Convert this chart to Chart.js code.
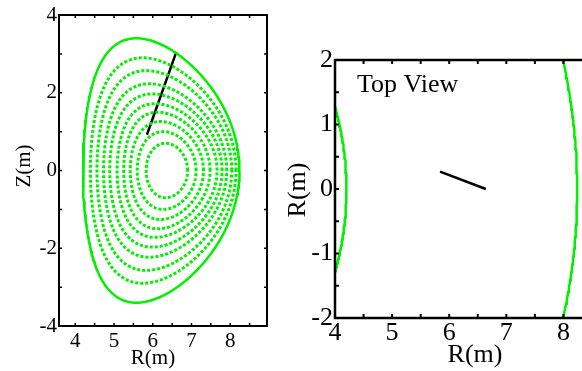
<!DOCTYPE html>
<html>
<head>
<meta charset="utf-8">
<script src="https://cdn.jsdelivr.net/npm/chart.js@4.4.1/dist/chart.umd.min.js"></script>
<style>
  html, body { margin: 0; padding: 0; background: #fff; overflow: hidden; }
  #wrap { position: relative; width: 582px; height: 371px; overflow: hidden; }
  canvas { position: absolute; top: 0; }
  #pol { left: 0; }
  #top { left: 280px; }
</style>
</head>
<body>
<div id="wrap">
  <canvas id="pol" width="280" height="371"></canvas>
  <canvas id="top" width="330" height="371"></canvas>
</div>
<script>
'use strict';

// flux surfaces, inner to outer (last one is the boundary, drawn solid)
var surfRin  = [5.83, 5.60, 5.42, 5.25, 5.08, 4.89, 4.73, 4.56, 4.39, 4.20];
var surfRout = [6.90, 7.12, 7.31, 7.48, 7.66, 7.79, 7.91, 8.04, 8.15, 8.24];
var surfZtop = [0.70, 1.00, 1.26, 1.50, 1.72, 1.97, 2.23, 2.57, 2.90, 3.40];
var surfRtop = [6.33, 6.27, 6.20, 6.13, 6.06, 5.99, 5.91, 5.83, 5.74, 5.58];

// sight line, poloidal plane and top view
var chordR = [5.85, 6.61];
var chordZ = [0.92, 3.05];
var topX = [5.84, 6.64];
var topY = [0.27, 0.00];

// axis ticks
var polRTicks = [4, 4.5, 5, 5.5, 6, 6.5, 7, 7.5, 8, 8.5];
var polRLabels = [4, 5, 6, 7, 8];
var polZTicks = [-4, -3, -2, -1, 0, 1, 2, 3, 4];
var polZLabels = [-4, -2, 0, 2, 4];
var topXTicks = [4, 4.5, 5, 5.5, 6, 6.5, 7, 7.5, 8, 8.5];
var topXLabels = [4, 5, 6, 7, 8];
var topYTicks = [-2, -1.5, -1, -0.5, 0, 0.5, 1, 1.5, 2];
var topYLabels = [-2, -1, 0, 1, 2];

var GREEN = '#00f000';

Chart.defaults.font.family = "'Liberation Serif', 'Times New Roman', serif";
Chart.defaults.color = '#000';

// D-shaped contour from the measured extents of one surface
function surfacePoints(i) {
  let r0 = (surfRin[i] + surfRout[i]) / 2;
  let a = (surfRout[i] - surfRin[i]) / 2;
  let kappa = surfZtop[i] / a;
  let tri = Math.asin((r0 - surfRtop[i]) / a);
  let pts = [];
  for (let k = 0; k <= 240; k++) {
    let th = k * 2 * Math.PI / 240;
    pts.push({x: r0 + a * Math.cos(th + tri * Math.sin(th)), y: kappa * a * Math.sin(th)});
  }
  return pts;
}

// toroidal circle of major radius r seen from above
function circlePoints(r) {
  let pts = [];
  for (let k = -80; k <= 80; k++) {
    let ph = k * 0.0075;
    pts.push({x: r * Math.cos(ph), y: r * Math.sin(ph)});
  }
  return pts;
}

function pairs(xs, ys) {
  return xs.map((x, i) => ({x: x, y: ys[i]}));
}

// box with inward ticks on all four sides, plus free text
var framePlugin = {
  id: 'frame',
  afterDraw(chart, args, opts) {
    let ctx = chart.ctx, a = chart.chartArea, sx = chart.scales.x, sy = chart.scales.y;
    ctx.save();
    ctx.strokeStyle = '#000';
    ctx.lineWidth = opts.width;
    ctx.strokeRect(a.left, a.top, a.right - a.left, a.bottom - a.top);
    ctx.lineWidth = opts.tickWidth;
    ctx.beginPath();
    sx.ticks.forEach(t => {
      let px = sx.getPixelForValue(t.value);
      ctx.moveTo(px, a.bottom); ctx.lineTo(px, a.bottom - opts.tick);
      ctx.moveTo(px, a.top); ctx.lineTo(px, a.top + opts.tick);
    });
    sy.ticks.forEach(t => {
      let py = sy.getPixelForValue(t.value);
      ctx.moveTo(a.left, py); ctx.lineTo(a.left + opts.tick, py);
      ctx.moveTo(a.right, py); ctx.lineTo(a.right - opts.tick, py);
    });
    ctx.stroke();
    ctx.fillStyle = '#000';
    ctx.textBaseline = 'alphabetic';
    opts.texts.forEach(t => {
      ctx.save();
      ctx.font = t.size + "px 'Liberation Serif', 'Times New Roman', serif";
      ctx.textAlign = t.align || 'center';
      ctx.translate(t.x, t.y);
      if (t.rot) ctx.rotate(t.rot);
      ctx.fillText(t.text, 0, 0);
      ctx.restore();
    });
    ctx.restore();
  }
};

function setTicks(list) {
  return scale => { scale.ticks = list.map(v => ({value: v})); };
}

function baseOptions(fontSize, xPad) {
  return {
    responsive: false,
    animation: false,
    devicePixelRatio: 1,
    events: [],
    plugins: {legend: {display: false}, tooltip: {enabled: false}},
    elements: {point: {radius: 0}, line: {tension: 0, borderCapStyle: 'butt'}},
    scales: {
      x: {
        type: 'linear',
        grid: {display: false, drawTicks: false},
        border: {display: false},
        ticks: {font: {size: fontSize}, padding: xPad, maxRotation: 0, autoSkip: false}
      },
      y: {
        type: 'linear',
        grid: {display: false, drawTicks: false},
        border: {display: false},
        ticks: {font: {size: fontSize}, padding: 2, autoSkip: false}
      }
    }
  };
}

// ---- poloidal cross section ----
var polSets = [];
for (let i = 0; i < surfRin.length; i++) {
  let outer = i === surfRin.length - 1;
  polSets.push({
    data: surfacePoints(i),
    showLine: true,
    borderColor: GREEN,
    borderWidth: outer ? 2.5 : 3,
    borderDash: outer ? [] : [3, 2],
    clip: 0
  });
}
polSets.push({data: pairs(chordR, chordZ), showLine: true, borderColor: '#000', borderWidth: 2.5, clip: 0});

var polOpts = baseOptions(21, 3);
polOpts.layout = {padding: {left: 0, right: 13, top: 15, bottom: 0}};
Object.assign(polOpts.scales.x, {
  min: 3.58, max: 8.95,
  afterBuildTicks: setTicks(polRTicks),
  afterFit: s => { s.height = 45; }
});
polOpts.scales.x.ticks.callback = v => polRLabels.includes(v) ? String(v) : '';
Object.assign(polOpts.scales.y, {
  min: -4, max: 4,
  afterBuildTicks: setTicks(polZTicks),
  afterFit: s => { s.width = 59; }
});
polOpts.scales.y.ticks.callback = v => polZLabels.includes(v) ? String(v) : '';
polOpts.plugins.frame = {
  width: 2, tickWidth: 1.5, tick: 3,
  texts: [
    {text: 'R(m)', x: 153, y: 364, size: 21},
    {text: 'Z(m)', x: 30, y: 166, size: 21, rot: -Math.PI / 2}
  ]
};

new Chart(document.getElementById('pol'), {
  type: 'scatter',
  data: {datasets: polSets},
  options: polOpts,
  plugins: [framePlugin]
});

// ---- top view ----
var edge = surfRin.length - 1;
var topSets = [
  {data: circlePoints(surfRin[edge]), showLine: true, borderColor: GREEN, borderWidth: 2.5, clip: 0},
  {data: circlePoints(surfRout[edge]), showLine: true, borderColor: GREEN, borderWidth: 2.5, clip: 0},
  {data: pairs(topX, topY), showLine: true, borderColor: '#000', borderWidth: 2.5, clip: 0}
];

var topOpts = baseOptions(26, 0);
topOpts.layout = {padding: {left: 0, right: 18, top: 60, bottom: 0}};
Object.assign(topOpts.scales.x, {
  min: 4, max: 8.5,
  afterBuildTicks: setTicks(topXTicks),
  afterFit: s => { s.height = 53; }
});
topOpts.scales.x.ticks.callback = v => topXLabels.includes(v) ? String(v) : '';
Object.assign(topOpts.scales.y, {
  min: -2, max: 2,
  afterBuildTicks: setTicks(topYTicks),
  afterFit: s => { s.width = 55; }
});
topOpts.scales.y.ticks.callback = v => topYLabels.includes(v) ? String(v) : '';
topOpts.plugins.frame = {
  width: 2.5, tickWidth: 2, tick: 4,
  texts: [
    {text: 'Top View', x: 77, y: 92, size: 26, align: 'left'},
    {text: 'R(m)', x: 195, y: 362, size: 26},
    {text: 'R(m)', x: 25, y: 190, size: 26, rot: -Math.PI / 2}
  ]
};

new Chart(document.getElementById('top'), {
  type: 'scatter',
  data: {datasets: topSets},
  options: topOpts,
  plugins: [framePlugin]
});
</script>
</body>
</html>
